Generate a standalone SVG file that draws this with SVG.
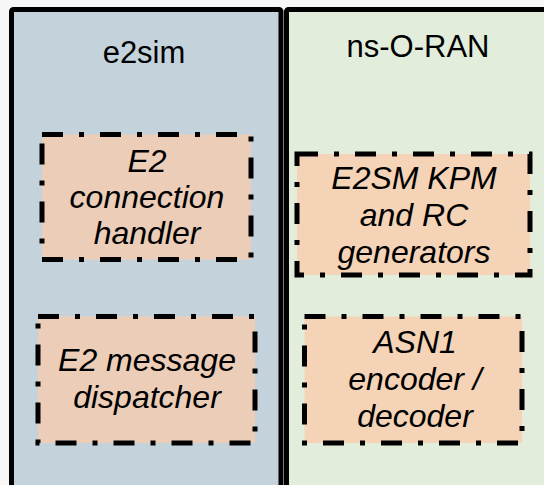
<svg xmlns="http://www.w3.org/2000/svg" width="544" height="485" viewBox="0 0 544 485">
<style>
.panel{stroke:#000;stroke-width:5}
.box{stroke:#000;stroke-width:5;stroke-dasharray:21 16 5 16}
.title{font-family:"Liberation Sans",Arial,sans-serif;font-size:31px;fill:#000;text-anchor:middle}
.lbl{font-family:"Liberation Sans",Arial,sans-serif;font-size:32px;font-style:italic;fill:#000;text-anchor:middle}
</style>
<rect x="0" y="0" width="544" height="485" fill="#f7f7f8"/>
<g id="e2sim">
<rect class="panel" x="11.5" y="9.5" width="269.5" height="500" rx="2" fill="#c4d3db"/>
<text class="title" x="144" y="63">e2sim</text>
</g>
<g id="ns-o-ran">
<rect class="panel" x="286.5" y="9.5" width="300" height="500" rx="2" fill="#e2eedb"/>
<text class="title" x="418" y="57">ns-O-RAN</text>
</g>
<g id="e2-connection-handler">
<rect class="box" x="42" y="134.5" width="209" height="125" fill="#eccdb8"/>
<text class="lbl" x="147" y="172">E2</text>
<text class="lbl" x="147" y="208">connection</text>
<text class="lbl" x="147" y="244">handler</text>
</g>
<g id="e2-message-dispatcher">
<rect class="box" x="38" y="316.5" width="217" height="126.5" fill="#eccdb8"/>
<text class="lbl" x="147" y="371">E2 message</text>
<text class="lbl" x="147" y="408">dispatcher</text>
</g>
<g id="e2sm-kpm-rc">
<rect class="box" x="297" y="154" width="233" height="121" fill="#f4d3b6"/>
<text class="lbl" x="414" y="189">E2SM KPM</text>
<text class="lbl" x="414" y="226">and RC</text>
<text class="lbl" x="414" y="263">generators</text>
</g>
<g id="asn1-codec">
<rect class="box" x="304.5" y="316.5" width="217.5" height="126.5" fill="#f4d3b6"/>
<text class="lbl" x="415" y="353">ASN1</text>
<text class="lbl" x="415" y="390">encoder /</text>
<text class="lbl" x="415" y="427">decoder</text>
</g>
<g id="connectors"></g>
</svg>
